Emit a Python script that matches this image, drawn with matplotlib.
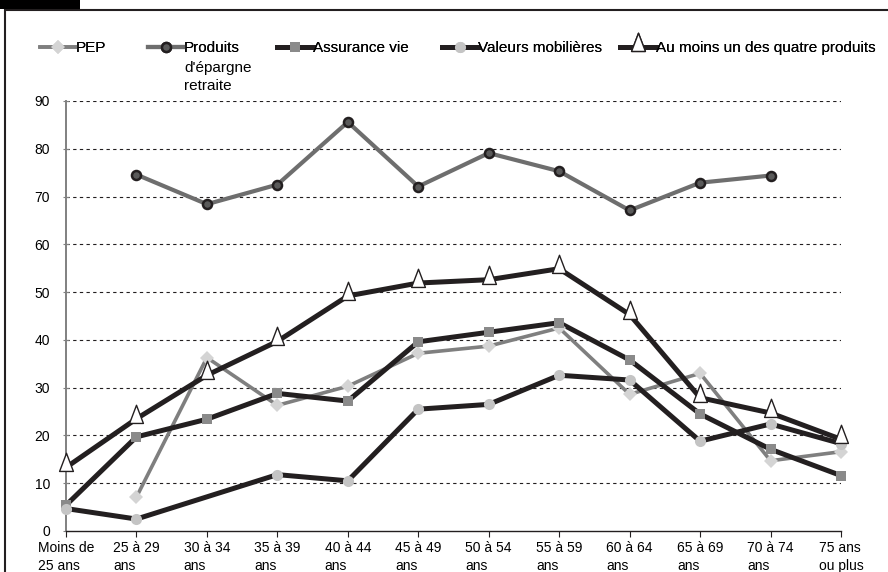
import numpy as np
import matplotlib
matplotlib.use("Agg")
import matplotlib.pyplot as plt
from matplotlib.lines import Line2D
from matplotlib.path import Path
from matplotlib.patches import Rectangle
from matplotlib.transforms import ScaledTranslation

plt.rcParams['font.family'] = ['Liberation Sans', 'DejaVu Sans']

# categories (age groups)
categories = ["Moins de\n25 ans", "25 à 29\nans", "30 à 34\nans", "35 à 39\nans",
              "40 à 44\nans", "45 à 49\nans", "50 à 54\nans", "55 à 59\nans",
              "60 à 64\nans", "65 à 69\nans", "70 à 74\nans", "75 ans\nou plus"]

# series values (%), None = no value
pep = [None, 7.1, 36.3, 26.3, 30.3, 37.2, 38.7, 42.5, 28.6, 33.0, 14.7, 16.6]
epargne_retraite = [None, 74.6, 68.4, 72.5, 85.6, 72.1, 79.1, 75.3, 67.1, 72.9, 74.4, None]
assurance_vie = [5.4, 19.7, 23.4, 28.8, 27.2, 39.6, 41.6, 43.6, 35.8, 24.5, 17.1, 11.6]
valeurs_mob = [4.7, 2.5, None, 11.8, 10.5, 25.5, 26.5, 32.6, 31.6, 18.8, 22.4, 18.3]
au_moins_un = [13.3, 23.5, 32.6, 39.7, 49.2, 51.9, 52.6, 54.9, 45.3, 27.9, 24.7, 19.2]

yticks = [0, 10, 20, 30, 40, 50, 60, 70, 80, 90]

# triangle marker whose anchor sits near its base (like the original)
tri = Path([(0, 14.4), (-7, -4), (7, -4), (0, 14.4)],
           [Path.MOVETO, Path.LINETO, Path.LINETO, Path.CLOSEPOLY])

series = [
    ("PEP", pep, dict(color="#7f7f7f", lw=2.6), dict(marker="D", ms=7.5, mfc="#d4d4d4", mec="#d4d4d4", mew=0)),
    ("Produits", epargne_retraite, dict(color="#6e6e6e", lw=3.0),
     dict(marker="o", ms=6.5, mfc="#5a5a5a", mec="#231f20", mew=1.8)),
    ("Assurance vie", assurance_vie, dict(color="#231f20", lw=3.6), dict(marker="s", ms=7, mfc="#8a8a8a", mec="#8a8a8a", mew=0)),
    ("Valeurs mobilières", valeurs_mob, dict(color="#231f20", lw=3.6), dict(marker="o", ms=8, mfc="#c4c4c4", mec="#c4c4c4", mew=0)),
    ("Au moins un des quatre produits", au_moins_un, dict(color="#231f20", lw=3.6),
     dict(marker=tri, ms=20.5, mfc="white", mec="#231f20", mew=1.0)),
]
# left edge (px) of each legend entry
legend_x = [40, 148, 277, 442, 620]

fig = plt.figure(figsize=(8.88, 5.72), dpi=100)
ax = fig.add_axes([66 / 888, 1 - 531 / 572, (841 - 66) / 888, (531 - 101) / 572])

x = np.arange(len(categories))
handles = []
for i, (label, vals, lstyle, mstyle) in enumerate(series):
    v = np.array([np.nan if a is None else a for a in vals], dtype=float)
    ok = ~np.isnan(v)
    ax.plot(x[ok], v[ok], solid_joinstyle="miter", zorder=3 + i * 0.1, clip_on=False, **lstyle)
    ax.plot(x[ok], v[ok], ls="none", zorder=5 + i * 0.1, clip_on=False, **mstyle)
    handles.append(Line2D([], [], label=label, **lstyle, **mstyle))

ax.set_xlim(0, len(categories) - 1)
ax.set_ylim(0, 90)
ax.set_yticks(yticks)
ax.set_xticks(x)
ax.set_xticklabels(categories, fontsize=10, linespacing=1.35, multialignment="left")
for lab in ax.get_xticklabels():
    lab.set_transform(lab.get_transform() + ScaledTranslation(-7 / 100, 0, fig.dpi_scale_trans))
ax.tick_params(axis="y", direction="inout", length=5, color="#808080", pad=9, labelsize=10)
ax.tick_params(axis="x", direction="out", length=4, color="#231f20", pad=3)

for y in yticks[1:]:
    ax.axhline(y, color="#231f20", lw=0.8, ls=(0, (3, 3)), zorder=1)

for s in ["top", "right"]:
    ax.spines[s].set_visible(False)
ax.spines["left"].set_color("#808080")
ax.spines["left"].set_linewidth(1.4)
ax.spines["bottom"].set_color("#231f20")
ax.spines["bottom"].set_linewidth(1.0)

legs = []
for h, lx in zip(handles, legend_x):
    lg = fig.legend(handles=[h], loc="upper left", bbox_to_anchor=(lx / 888, 1 - 41 / 572),
                    frameon=False, fontsize=11, handlelength=2.35, handletextpad=0.0,
                    borderaxespad=0, borderpad=0)
    legs.append(lg)
    fig.add_artist(lg)

# rest of the wrapped "Produits d'épargne retraite" label
fig.canvas.draw()
r = fig.canvas.get_renderer()
bb = legs[1].get_texts()[0].get_window_extent(r)
fig.text(bb.x0 / 888, (bb.y0 - 6) / 572, "d'épargne\nretraite", fontsize=11, va="top", ha="left",
         linespacing=1.4)

# frame and black tab on top-left
fig.patches.append(Rectangle((5 / 888, -0.05), 1.0, 1 - 9.5 / 572 + 0.05, transform=fig.transFigure,
                             fill=False, ec="#231f20", lw=1.5))
fig.patches.append(Rectangle((0, 1 - 9 / 572), 80 / 888, 9 / 572, transform=fig.transFigure,
                             fc="black", ec="none"))

fig.savefig("out.png", dpi=100)
